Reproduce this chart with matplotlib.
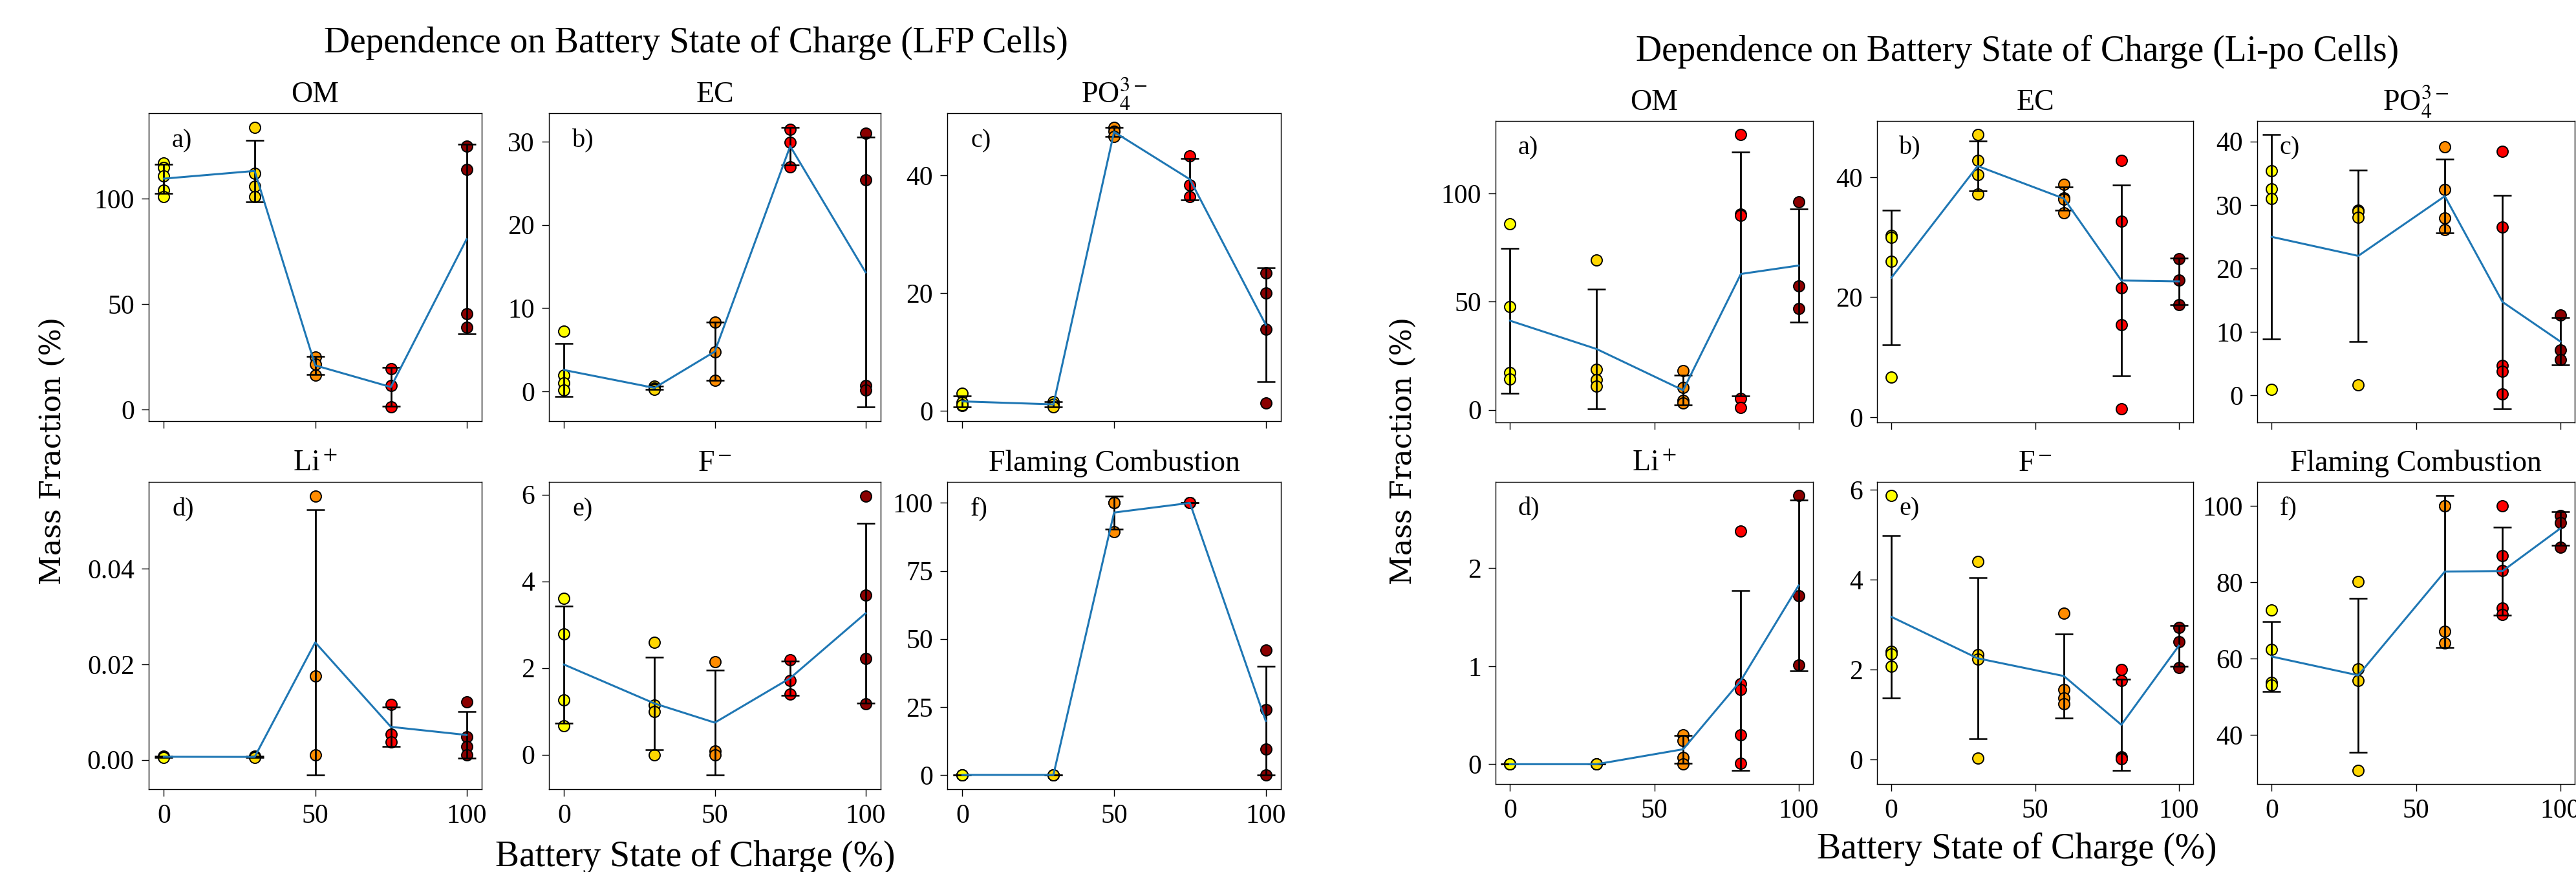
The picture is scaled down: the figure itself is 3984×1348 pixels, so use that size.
import numpy as np
import matplotlib
matplotlib.use('Agg')
import matplotlib.pyplot as plt

plt.rcParams['font.family'] = ['Liberation Serif', 'DejaVu Serif']
plt.rcParams['mathtext.fontset'] = 'stix'

# battery state of charge (%) and the colour of each group
soc_lfp = [0, 30, 50, 75, 100]
soc_lipo = [0, 30, 60, 80, 100]
soc_colors = ['yellow', 'gold', 'darkorange', 'red', 'darkred']

titles = ['OM', 'EC', r'PO$_4^{3-}$', r'Li$^+$', r'F$^-$', 'Flaming Combustion']
tags = ['a)', 'b)', 'c)', 'd)', 'e)', 'f)']

# LFP cells, mass fraction (%) of each replicate
lfp_om = [[117, 115, 111, 104, 101], [134, 112, 106, 101], [25, 21.5, 16.5],
          [19.5, 11.5, 1.2], [125, 114, 45.5, 39]]
lfp_ec = [[7.2, 1.9, 1.0, 0.1], [0.6, 0.4, 0.2], [8.3, 4.7, 1.3],
          [31.5, 29.9, 27.0], [31.0, 25.4, 0.7, 0.1]]
lfp_po4 = [[3.0, 1.4, 0.9, 1.0], [1.5, 1.1, 0.6], [48.2, 47.5, 46.6],
           [43.3, 38.4, 36.4], [23.4, 20.0, 13.8, 1.3]]
lfp_li = [[0.0008, 0.0006, 0.0005], [0.0007, 0.0006, 0.0005], [0.0553, 0.0175, 0.001],
          [0.0116, 0.0054, 0.0037], [0.0122, 0.0048, 0.0028, 0.001]]
lfp_f = [[3.61, 2.78, 1.27, 0.66], [2.59, 1.14, 1.0, 0.0], [2.14, 0.08, 0.0],
         [2.19, 1.71, 1.40], [5.97, 3.68, 2.22, 1.18]]
lfp_fc = [[0, 0, 0], [0, 0, 0], [100, 100, 89.4],
          [100, 100, 100], [45.9, 24.0, 9.5, 0]]

# Li-po cells
lipo_om = [[86, 47.7, 17.1, 14.2], [69.3, 18.7, 13.8, 10.8], [18.2, 10.4, 4.4, 3.3],
           [127.3, 90.6, 90, 5.3, 1.1], [96.3, 57.2, 46.8]]
lipo_ec = [[30.3, 30, 26, 6.7], [47.1, 42.8, 40.4, 37.2], [38.8, 36.6, 36.3, 34.1],
           [42.8, 32.7, 21.6, 15.4, 1.4], [26.4, 22.8, 18.7]]
lipo_po4 = [[35.4, 32.5, 31.0, 1.0], [29.2, 29.0, 28.0, 1.7], [39.1, 32.4, 27.9, 26.1],
            [38.4, 26.5, 4.7, 3.8, 0.2], [12.7, 7.2, 5.6]]
lipo_li = [[0.0, 0.0, 0.0], [0.0, 0.0, 0.0], [0.30, 0.24, 0.07, 0.0],
           [2.38, 0.82, 0.76, 0.30, 0.01], [2.74, 1.72, 1.01]]
lipo_f = [[5.87, 2.4, 2.35, 2.07], [4.41, 2.33, 2.23, 0.03], [3.25, 1.56, 1.37, 1.24],
          [2.0, 1.75, 0.05, 0.03, 0.02], [2.93, 2.62, 2.04]]
lipo_fc = [[72.8, 62.4, 53.8, 53.1], [80.2, 57.3, 54.2, 30.7], [100, 100, 67.1, 64.1],
           [100, 86.9, 83.1, 73.2, 71.5], [97.5, 95.6, 89.2]]

W, H = 3984, 1348
fig = plt.figure(figsize=(W / 100, H / 100), dpi=100)


def px(l, r, t, b):
    return [l / W, 1 - b / H, (r - l) / W, (b - t) / H]


def panel(ax, soc, groups, title, tag, bottom):
    for x, vals, c in zip(soc, groups, soc_colors):
        ax.scatter([x] * len(vals), vals, s=150, color=c, edgecolor='k', linewidth=1.4)
    means = [np.mean(v) for v in groups]
    stds = [np.std(v, ddof=1) for v in groups]
    ax.errorbar(soc, means, yerr=stds, fmt='none', ecolor='k', elinewidth=2.0,
                capsize=10, capthick=1.8)
    ax.plot(soc, means, color='tab:blue', lw=2.2)
    ax.set_title(title, fontsize=33, pad=12)
    ax.text(0.07, 0.91, tag, transform=ax.transAxes, fontsize=29, va='center')
    ax.set_xticks([0, 50, 100])
    ax.tick_params(labelsize=30, length=8, width=1.0, pad=8)
    if not bottom:
        ax.tick_params(labelbottom=False)
    for s in ax.spines.values():
        s.set_linewidth(1.0)


lfp_data = [lfp_om, lfp_ec, lfp_po4, lfp_li, lfp_f, lfp_fc]
lipo_data = [lipo_om, lipo_ec, lipo_po4, lipo_li, lipo_f, lipo_fc]

lfp_cols = [(230, 745), (849, 1362), (1465, 1981)]
lfp_rows = [(175, 651), (745, 1220)]
lipo_cols = [(2313, 2804), (2903, 3392), (3491, 3982)]
lipo_rows = [(187, 653), (745, 1212)]

for cols, rows, soc, data in [(lfp_cols, lfp_rows, soc_lfp, lfp_data),
                              (lipo_cols, lipo_rows, soc_lipo, lipo_data)]:
    for i in range(6):
        l, r = cols[i % 3]
        t, b = rows[i // 3]
        ax = fig.add_axes(px(l, r, t, b))
        panel(ax, soc, data[i], titles[i], tags[i], i >= 3)

fig.text(1076 / W, 1 - 67 / H, 'Dependence on Battery State of Charge (LFP Cells)',
         fontsize=40, ha='center', va='center')
fig.text(3120 / W, 1 - 80 / H, 'Dependence on Battery State of Charge (Li-po Cells)',
         fontsize=40, ha='center', va='center')
fig.text(1075 / W, 1 - 1325 / H, 'Battery State of Charge (%)', fontsize=40,
         ha='center', va='center')
fig.text(3119 / W, 1 - 1313 / H, 'Battery State of Charge (%)', fontsize=40,
         ha='center', va='center')
for x in [81, 2170]:
    fig.text(x / W, 1 - 697 / H, 'Mass Fraction (%)', fontsize=32, family='DejaVu Serif',
             rotation=90, ha='center', va='center')

fig.savefig('out.png', dpi=100)
